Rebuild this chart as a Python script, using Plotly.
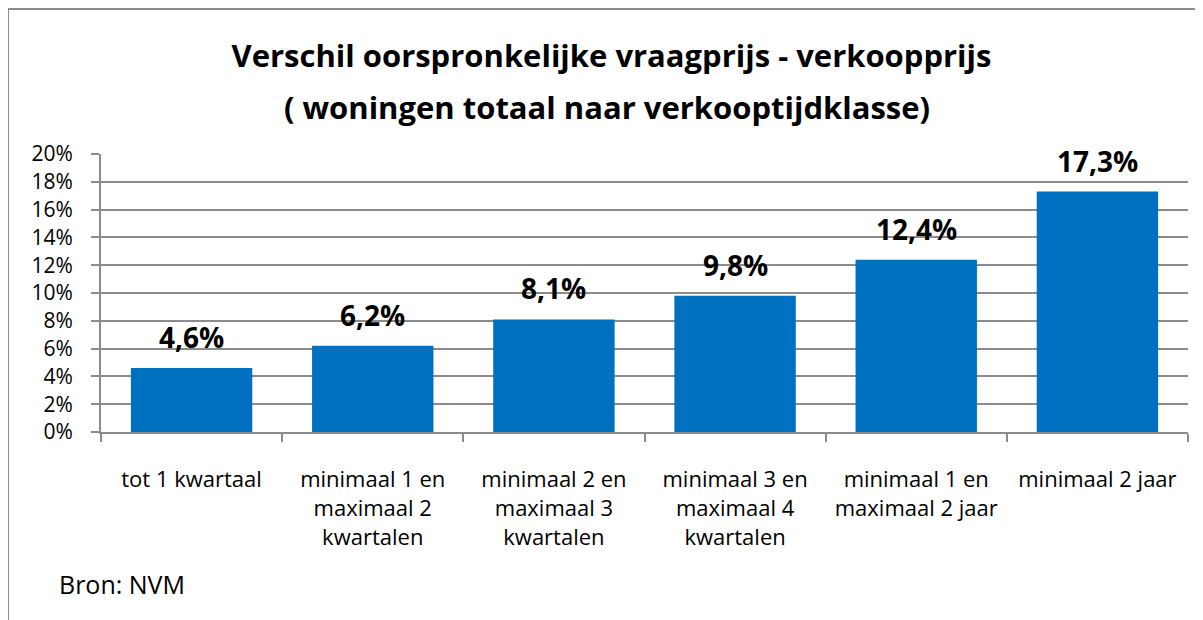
import plotly.graph_objects as go

categories = ["tot 1 kwartaal", "minimaal 1 en<br>maximaal 2<br>kwartalen",
              "minimaal 2 en<br>maximaal 3<br>kwartalen", "minimaal 3 en<br>maximaal 4<br>kwartalen",
              "minimaal 1 en<br>maximaal 2 jaar", "minimaal 2 jaar"]
values = [4.6, 6.2, 8.1, 9.8, 12.4, 17.3]
labels = ["4,6%", "6,2%", "8,1%", "9,8%", "12,4%", "17,3%"]
yticks = list(range(0, 21, 2))
yticktext = [f"{v}%" for v in yticks]
title_line1 = "Verschil oorspronkelijke vraagprijs - verkoopprijs"
title_line2 = "( woningen totaal naar verkooptijdklasse)"
source = "Bron: NVM"

font = "Open Sans"
grey = "#8c8c8c"

fig = go.Figure(go.Bar(
    x=categories, y=values,
    marker=dict(color="#0070C0", line=dict(width=0)),
))

annotations = [
    dict(x=c, y=v, xref="x", yref="y", text=t, showarrow=False, yanchor="middle",
         yshift=31, font=dict(family=font, size=28, color="black", weight="bold"))
    for c, v, t in zip(categories, values, labels)
]
annotations.append(dict(text=title_line2, xref="paper", yref="paper", x=0.4655, y=1.169,
                        xanchor="center", yanchor="middle", showarrow=False,
                        font=dict(family=font, size=31, color="black", weight="bold")))
annotations.append(dict(text=source, xref="paper", yref="paper", x=-0.0405, y=-0.547,
                        xanchor="left", yanchor="middle", showarrow=False,
                        font=dict(family=font, size=25, color="black")))

fig.update_layout(
    width=1203, height=620,
    margin=dict(l=93, r=23, t=146, b=196),
    paper_bgcolor="white", plot_bgcolor="white",
    bargap=0.33,
    showlegend=False,
    font=dict(family=font, color="black", size=22),
    title=dict(text=title_line1, xref="container", yref="container",
               x=603.5 / 1203, xanchor="center", y=1 - 48 / 620, yanchor="middle",
               font=dict(family=font, size=31, color="black", weight="bold")),
    annotations=annotations,
    shapes=[dict(type="rect", xref="paper", yref="paper", x0=-93 / 1087, x1=1.03, y0=-0.75,
                 y1=423 / 278, line=dict(color=grey, width=2), fillcolor="rgba(0,0,0,0)",
                 layer="below")],
)
fig.update_xaxes(showline=True, linecolor=grey, linewidth=2, ticks="outside", ticklen=8,
                 tickcolor=grey, tickwidth=2, tickson="boundaries", showgrid=False,
                 tickfont=dict(size=22), ticklabelstandoff=27)
fig.update_yaxes(range=[0, 20], tickvals=yticks, ticktext=yticktext, showline=True,
                 linecolor=grey, linewidth=2, ticks="outside", ticklen=8, tickcolor=grey,
                 tickwidth=2, showgrid=True, gridcolor=grey, gridwidth=2, zeroline=False,
                 tickfont=dict(size=21), ticklabelstandoff=14)
fig.write_html("out.html")
